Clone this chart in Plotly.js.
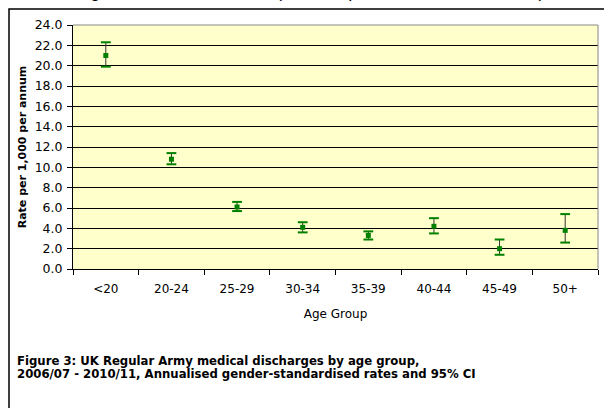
<!DOCTYPE html>
<html>
<head>
<meta charset="utf-8">
<script src="https://cdn.plot.ly/plotly-3.0.1.min.js"></script>
<style>html,body{margin:0;padding:0;background:#fff;}#chart{width:604px;height:408px;}</style>
</head>
<body>
<div id="chart"></div>
<script>
var ageGroups = ["<20", "20-24", "25-29", "30-34", "35-39", "40-44", "45-49", "50+"];
var rates = [21.0, 10.8, 6.1, 4.1, 3.3, 4.2, 2.0, 3.8];
var upperCI = [22.3, 11.4, 6.6, 4.6, 3.7, 5.0, 2.9, 5.4];
var lowerCI = [19.9, 10.3, 5.7, 3.6, 2.9, 3.5, 1.4, 2.6];
var yTickVals = [0, 2, 4, 6, 8, 10, 12, 14, 16, 18, 20, 22, 24];

var errPlus = rates.map(function (v, i) { return upperCI[i] - v; });
var errMinus = rates.map(function (v, i) { return v - lowerCI[i]; });

var W = 604, H = 408;
var mL = 73, mR = 6, mT = 25, mB = 139;
var pw = W - mL - mR, ph = H - mT - mB;
function px(x) { return (x - mL) / pw; }
function py(y) { return (H - mB - y) / ph; }

var F = "DejaVu Sans, Verdana, sans-serif";
var FA = "Arial, Liberation Sans, sans-serif";

var traces = [
  {
    x: ageGroups, y: rates, type: "scatter", mode: "markers",
    marker: { symbol: "square", size: 5, color: "#008000" },
    error_y: { type: "data", symmetric: false, array: errPlus, arrayminus: errMinus,
      color: "#333333", thickness: 1, width: 0 },
    showlegend: false, hoverinfo: "x+y"
  },
  {
    x: ageGroups.concat(ageGroups), y: upperCI.concat(lowerCI), type: "scatter", mode: "markers",
    marker: { symbol: "line-ew-open", size: 7, color: "#008000", line: { color: "#008000", width: 2 } },
    showlegend: false, hoverinfo: "y"
  }
];

var layout = {
  width: W, height: H,
  margin: { l: mL, r: mR, t: mT, b: mB, pad: 0 },
  paper_bgcolor: "#ffffff",
  plot_bgcolor: "#FFFFCC",
  font: { family: F, size: 12, color: "#000" },
  showlegend: false,
  xaxis: {
    type: "category", tickson: "boundaries", ticks: "outside", ticklen: 5, tickcolor: "#000",
    showline: true, linecolor: "#000", linewidth: 1, showgrid: false, zeroline: false,
    tickfont: { size: 12, family: F }, ticklabelstandoff: 9,
    title: { text: "Age Group", font: { size: 12, family: F }, standoff: 14 },
    range: [-0.5, 7.5], automargin: false, fixedrange: true
  },
  yaxis: {
    range: [0, 24], tickvals: yTickVals, tickformat: ".1f", ticks: "outside", ticklen: 5, tickcolor: "#000",
    showline: true, linecolor: "#000", linewidth: 1,
    showgrid: true, gridcolor: "#000", gridwidth: 1, zeroline: false,
    tickfont: { size: 12.5, family: F }, ticklabelstandoff: 2,
    title: { text: "<b>Rate per 1,000 per annum</b>", font: { size: 11, family: F }, standoff: 5 },
    automargin: false, fixedrange: true
  },
  shapes: [
    { type: "rect", xref: "paper", yref: "paper", x0: px(9), x1: px(620), y0: py(420), y1: py(9),
      line: { color: "#000", width: 1.5 }, fillcolor: "rgba(0,0,0,0)", layer: "below" },
    { type: "line", xref: "paper", yref: "paper", x0: 0, x1: 1, y0: 1, y1: 1, line: { color: "#888", width: 1 } },
    { type: "line", xref: "paper", yref: "paper", x0: 1, x1: 1, y0: 0, y1: 1, line: { color: "#888", width: 1 } }
  ],
  annotations: [
    { xref: "paper", yref: "paper", x: px(15), y: py(361), xanchor: "left", yanchor: "middle", align: "left",
      showarrow: false, font: { size: 11.7, family: F },
      text: "<b>Figure 3: UK Regular Army medical discharges by age group,</b>" },
    { xref: "paper", yref: "paper", x: px(15), y: py(374), xanchor: "left", yanchor: "middle", align: "left",
      showarrow: false, font: { size: 11.7, family: F },
      text: "<b>2006/07 - 2010/11, Annualised gender-standardised rates and 95% CI</b>" },
    { xref: "paper", yref: "paper", x: px(27), y: py(3.5), xanchor: "left", yanchor: "bottom", showarrow: false,
      font: { size: 18, family: FA }, text: "Discharge" },
    { xref: "paper", yref: "paper", x: px(315), y: py(3.5), xanchor: "center", yanchor: "bottom", showarrow: false,
      font: { size: 18, family: FA }, text: "(all ranks)" },
    { xref: "paper", yref: "paper", x: px(543), y: py(3.5), xanchor: "right", yanchor: "bottom", showarrow: false,
      font: { size: 18, family: FA }, text: "rates (" }
  ]
};

Plotly.newPlot("chart", traces, layout, { displayModeBar: false, staticPlot: true });
</script>
</body>
</html>
